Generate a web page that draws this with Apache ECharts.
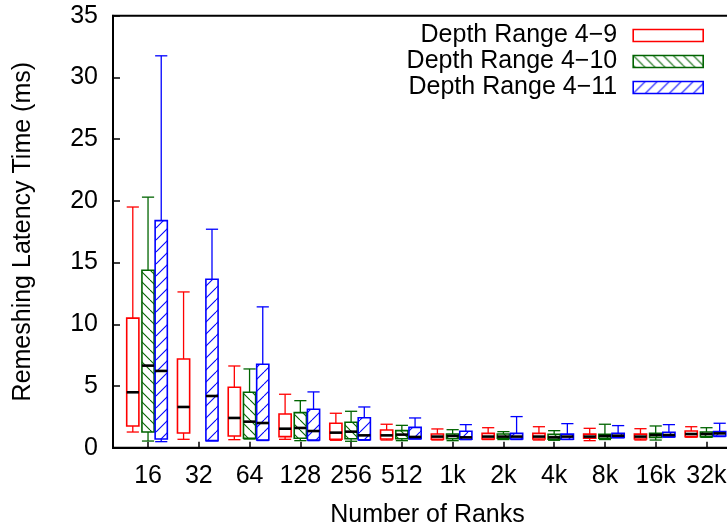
<!DOCTYPE html>
<html>
<head>
<meta charset="utf-8">
<title>Remeshing Latency</title>
<script src="https://cdn.jsdelivr.net/npm/echarts@6/dist/echarts.min.js"></script>
<style>
  html, body { margin: 0; padding: 0; background: #fff; }
  #chart { width: 727px; height: 529px; }
</style>
</head>
<body>
<div id="chart"></div>
<script>
// Number of ranks on the x axis
const ranks = ['16', '32', '64', '128', '256', '512', '1k', '2k', '4k', '8k', '16k', '32k'];

// Per-rank box statistics: [whisker low, box low, median, box high, whisker high]
const depth4to9 = [
  [1.27, 1.76, 4.49, 10.5, 19.5],
  [0.68, 1.19, 3.3, 7.19, 12.62],
  [0.65, 0.95, 2.41, 4.9, 6.62],
  [0.68, 0.9, 1.54, 2.73, 4.33],
  [0.6, 0.68, 1.22, 1.98, 2.79],
  [0.62, 0.7, 1.0, 1.44, 1.9],
  [0.62, 0.68, 0.9, 1.11, 1.52],
  [0.66, 0.7, 0.9, 1.16, 1.62],
  [0.62, 0.7, 0.9, 1.16, 1.7],
  [0.57, 0.76, 0.9, 1.1, 1.57],
  [0.62, 0.7, 0.9, 1.1, 1.54],
  [0.85, 0.9, 1.11, 1.35, 1.7]
];

const depth4to10 = [
  [0.54, 1.27, 6.65, 14.38, 20.3],
  null,
  [0.7, 0.76, 2.11, 4.49, 6.38],
  [0.57, 0.76, 1.6, 2.84, 3.81],
  [0.52, 0.73, 1.3, 2.06, 2.95],
  [0.57, 0.73, 1.06, 1.38, 1.81],
  [0.57, 0.73, 0.95, 1.11, 1.46],
  [0.66, 0.76, 0.9, 1.11, 1.3],
  [0.6, 0.68, 0.84, 1.08, 1.38],
  [0.66, 0.76, 0.95, 1.08, 1.9],
  [0.62, 0.84, 1.03, 1.16, 1.76],
  [0.84, 0.9, 1.11, 1.27, 1.62]
];

const depth4to11 = [
  [0.49, 0.7, 6.22, 18.4, 31.75],
  [0.55, 0.57, 4.19, 13.65, 17.7],
  [0.58, 0.62, 2.0, 6.76, 11.41],
  [0.57, 0.62, 1.35, 3.11, 4.52],
  [0.6, 0.65, 1.0, 2.43, 3.3],
  [0.7, 0.73, 0.87, 1.65, 2.41],
  [0.65, 0.68, 0.84, 1.33, 1.87],
  [0.66, 0.7, 0.9, 1.16, 2.52],
  [0.66, 0.68, 0.9, 1.1, 1.95],
  [0.8, 0.84, 0.97, 1.16, 1.79],
  [0.85, 0.9, 1.03, 1.25, 1.87],
  [0.9, 0.95, 1.16, 1.3, 1.98]
];

const seriesNames = ['Depth Range 4\u22129', 'Depth Range 4\u221210', 'Depth Range 4\u221211'];

const FONT = '"Liberation Sans", Arial, Helvetica, sans-serif';
const FS = 25;

// Hatch tiles for the box fills
function hatch(color, size, dir) {
  const c = document.createElement('canvas');
  c.width = size; c.height = size;
  const g = c.getContext('2d');
  g.strokeStyle = color;
  g.lineWidth = 1.1;
  for (let k = -1; k <= 1; k++) {
    g.beginPath();
    if (dir === 'back') {
      g.moveTo(k * size, 0);
      g.lineTo(k * size + size, size);
    } else {
      g.moveTo(k * size, size);
      g.lineTo(k * size + size, 0);
    }
    g.stroke();
  }
  return { image: c, repeat: 'repeat' };
}

const styles = [
  { stroke: '#ff0000', fill: 'rgba(255,255,255,0)', offset: -0.3 },
  { stroke: '#006400', fill: hatch('#006400', 10, 'back'), offset: 0 },
  { stroke: '#0000ff', fill: hatch('#0000ff', 12, 'fwd'), offset: 0.26 }
];

const BOX_W = 0.24;

function toData(arr, offset) {
  const out = [];
  arr.forEach((d, i) => { if (d) out.push([i + offset].concat(d)); });
  return out;
}

function makeRender(st) {
  return function (params, api) {
    const x = api.value(0);
    const wLo = api.coord([x, api.value(1)]);
    const bLo = api.coord([x, api.value(2)]);
    const med = api.coord([x, api.value(3)]);
    const bHi = api.coord([x, api.value(4)]);
    const wHi = api.coord([x, api.value(5)]);
    const half = api.size([BOX_W, 0])[0] / 2;
    const cx = wLo[0];
    const lineStyle = { stroke: st.stroke, lineWidth: 1.3 };
    return {
      type: 'group',
      children: [
        { type: 'line', shape: { x1: cx, y1: bHi[1], x2: cx, y2: wHi[1] }, style: lineStyle },
        { type: 'line', shape: { x1: cx, y1: bLo[1], x2: cx, y2: wLo[1] }, style: lineStyle },
        { type: 'line', shape: { x1: cx - half, y1: wHi[1], x2: cx + half, y2: wHi[1] }, style: lineStyle },
        { type: 'line', shape: { x1: cx - half, y1: wLo[1], x2: cx + half, y2: wLo[1] }, style: lineStyle },
        {
          type: 'rect',
          shape: { x: cx - half, y: bHi[1], width: half * 2, height: bLo[1] - bHi[1] },
          style: { fill: st.fill, stroke: st.stroke, lineWidth: 1.6 }
        },
        { type: 'line', shape: { x1: cx - half, y1: med[1], x2: cx + half, y2: med[1] },
          style: { stroke: '#000', lineWidth: 2.6 } }
      ]
    };
  };
}

const allData = [depth4to9, depth4to10, depth4to11];
const tickIdx = ranks.map((r, i) => i);

const chart = echarts.init(document.getElementById('chart'), null, { renderer: 'canvas' });
chart.setOption({
  animation: false,
  backgroundColor: '#fff',
  grid: {
    left: 113, top: 15.7, width: 629, height: 432,
    containLabel: false,
    outerBoundsMode: 'none',
    show: true, borderColor: '#000', borderWidth: 2, backgroundColor: 'transparent'
  },
  legend: {
    orient: 'vertical',
    right: 23,
    top: 23,
    padding: 0,
    align: 'right',
    itemWidth: 70,
    itemHeight: 12,
    itemGap: 1,
    icon: 'rect',
    selectedMode: false,
    textStyle: { fontFamily: FONT, fontSize: FS, color: '#000', padding: [0, 11, 0, 0] },
    data: seriesNames.map((n, k) => ({
      name: n,
      icon: 'rect',
      itemStyle: { color: styles[k].fill, borderColor: styles[k].stroke, borderWidth: 1.6 }
    }))
  },
  xAxis: {
    type: 'value',
    min: -0.69,
    max: 11.7,
    name: 'Number of Ranks',
    nameLocation: 'middle',
    nameGap: 55,
    nameMoveOverlap: false,
    nameTextStyle: { fontFamily: FONT, fontSize: FS, color: '#000' },
    splitLine: { show: false },
    axisLine: { show: true, onZero: false, lineStyle: { color: '#000', width: 2 } },
    axisTick: { show: true, inside: true, length: 6, customValues: tickIdx, lineStyle: { color: '#000', width: 1.5 } },
    axisLabel: {
      customValues: tickIdx,
      formatter: v => ranks[Math.round(v)],
      margin: 16,
      fontFamily: FONT, fontSize: FS, color: '#000'
    }
  },
  yAxis: {
    type: 'value',
    min: 0,
    max: 35,
    interval: 5,
    name: 'Remeshing Latency Time (ms)',
    nameLocation: 'middle',
    nameGap: 77,
    nameMoveOverlap: false,
    nameTextStyle: { fontFamily: FONT, fontSize: FS, color: '#000' },
    splitLine: { show: false },
    axisLine: { show: true, onZero: false, lineStyle: { color: '#000', width: 2 } },
    axisTick: { show: true, inside: true, length: 7, lineStyle: { color: '#000', width: 1.5 } },
    axisLabel: { margin: 15, fontFamily: FONT, fontSize: FS, color: '#000' }
  },
  series: allData.map((arr, k) => ({
    type: 'custom',
    name: seriesNames[k],
    renderItem: makeRender(styles[k]),
    itemStyle: { color: styles[k].fill, borderColor: styles[k].stroke, borderWidth: 1.6 },
    encode: { x: 0, y: [1, 2, 3, 4, 5] },
    data: toData(arr, styles[k].offset),
    z: 2 + k
  }))
});
</script>
</body>
</html>
